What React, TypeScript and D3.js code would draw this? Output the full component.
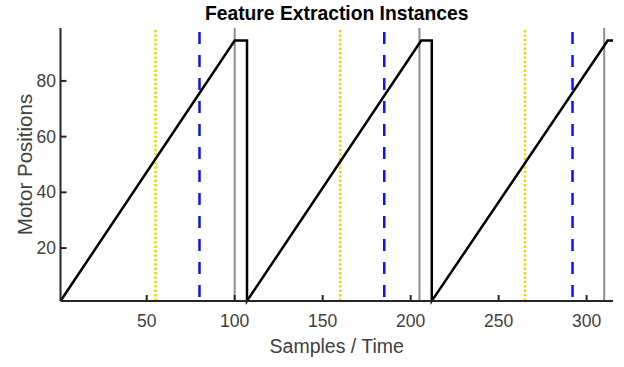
import React from 'react';
import * as d3 from "d3";

// motor position trace (breakpoints)
const sampleX = [1, 100, 107, 107, 206, 212, 212, 312, 315]
const motorY = [1, 94.5, 94.5, 1, 94.5, 94.5, 1, 94.5, 94.5]

// feature extraction markers
const yellowX = [55, 160, 265]
const blueX = [80, 185, 292]
const grayX = [100, 205, 310]

const xTicks = [50, 100, 150, 200, 250, 300]
const yTicks = [20, 40, 60, 80]

const App = () => {

    const width = 624
    const height = 367

    const xScale = d3.scaleLinear().domain([1, 315]).range([60.5, 613])
    const yScale = d3.scaleLinear().domain([1, 99]).range([301, 28])

    const points = sampleX.map((x, i) => [x, motorY[i]])
    const line = d3.line().x(d => xScale(d[0])).y(d => yScale(d[1]))

    const left = xScale(1)
    const bottom = yScale(1)
    const top = yScale(99)
    const axisColor = "#262626"
    const font = "'Liberation Sans', Arial, sans-serif"

    return (
        <svg width={width} height={height} style={{position: "absolute", left: 0, top: 0}}
             fontFamily={font}>
            <rect width={width} height={height} fill="white"/>

            {grayX.map(x => (
                <line key={"g" + x} x1={xScale(x)} x2={xScale(x)} y1={top} y2={bottom}
                      stroke="#8c8c8c" strokeWidth={2}/>
            ))}
            {yellowX.map(x => (
                <line key={"y" + x} x1={xScale(x)} x2={xScale(x)} y1={top + 2} y2={bottom}
                      stroke="#ecd800" strokeWidth={2.6} strokeDasharray="2.4,2"/>
            ))}
            {blueX.map(x => (
                <line key={"b" + x} x1={xScale(x)} x2={xScale(x)} y1={top + 4} y2={bottom}
                      stroke="#1010ff" strokeWidth={2.5} strokeDasharray="12,11"/>
            ))}

            <path d={line(points)} fill="none" stroke="black" strokeWidth={2.5}
                  strokeLinejoin="miter"/>

            {/* axes */}
            <line x1={left} x2={xScale(315)} y1={bottom} y2={bottom} stroke={axisColor} strokeWidth={2}/>
            <line x1={left} x2={left} y1={top} y2={bottom} stroke={axisColor} strokeWidth={2}/>

            {xTicks.map(t => (
                <g key={"xt" + t}>
                    <line x1={xScale(t)} x2={xScale(t)} y1={bottom} y2={bottom - 6} stroke={axisColor} strokeWidth={2}/>
                    <text x={xScale(t)} y={327} textAnchor="middle" fontSize={17.5} fill="#404040">{t}</text>
                </g>
            ))}
            {yTicks.map(t => (
                <g key={"yt" + t}>
                    <line x1={left} x2={left + 6} y1={yScale(t)} y2={yScale(t)} stroke={axisColor} strokeWidth={2}/>
                    <text x={56} y={yScale(t)} dy="0.35em" textAnchor="end" fontSize={17.5} fill="#404040">{t}</text>
                </g>
            ))}

            <text x={(left + xScale(315)) / 2} y={20} textAnchor="middle" fontSize={19.3}
                  fontWeight="bold" fill="black">Feature Extraction Instances</text>
            <text x={(left + xScale(315)) / 2} y={353} textAnchor="middle" fontSize={19.5}
                  fill="#404040">Samples / Time</text>
            <text transform={`translate(32, ${(top + bottom) / 2}) rotate(-90)`} textAnchor="middle"
                  fontSize={20.5} fill="#404040">Motor Positions</text>
        </svg>
    );
};

export default App;
